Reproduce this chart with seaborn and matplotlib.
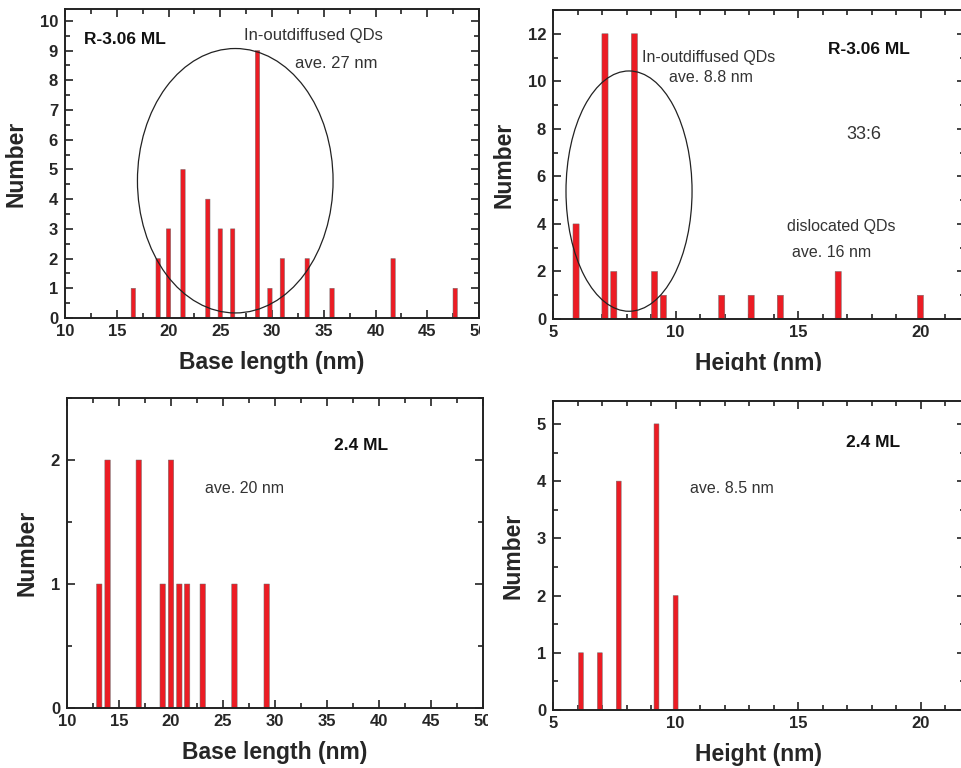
import numpy as np
import matplotlib
matplotlib.use("Agg")
import matplotlib.pyplot as plt
from matplotlib.patches import Ellipse, Rectangle
from matplotlib.ticker import MultipleLocator
import seaborn as sns

# R-3.06 ML sample: base length distribution
tl_base = [16.6, 19.0, 20.0, 21.4, 23.8, 25.0, 26.2, 28.6, 29.8, 31.0, 33.4, 35.8, 41.7, 47.7]
tl_count = [1, 2, 3, 5, 4, 3, 3, 9, 1, 2, 2, 1, 2, 1]

# R-3.06 ML sample: height distribution
tr_height = [5.94, 7.12, 7.48, 8.32, 9.14, 9.50, 11.88, 13.08, 14.27, 16.63, 19.98]
tr_count = [4, 12, 2, 12, 2, 1, 1, 1, 1, 2, 1]

# 2.4 ML sample: base length distribution
bl_base = [13.1, 13.9, 16.9, 19.2, 20.0, 20.8, 21.55, 23.05, 26.1, 29.2]
bl_count = [1, 2, 2, 1, 2, 1, 1, 1, 1, 1]

# 2.4 ML sample: height distribution
br_height = [6.14, 6.91, 7.68, 9.22, 10.0]
br_count = [1, 1, 4, 5, 2]

sns.set_style("ticks")
plt.rcParams["font.family"] = ["Liberation Sans", "DejaVu Sans"]
plt.rcParams["axes.linewidth"] = 1.4
plt.rcParams["axes.edgecolor"] = "#222222"

BAR_COLOR = "#ec1c24"
W, H = 962, 768
fig = plt.figure(figsize=(W / 100, H / 100), dpi=100)


def add_axes_px(left, right, top, bottom, z=0):
    return fig.add_axes([left / W, 1 - bottom / H, (right - left) / W, (bottom - top) / H], zorder=z)


def histo(ax, xs, ys, bar_w, xlim, ylim, xmaj, xmin, ymaj, ymin, xlabel):
    native = np.min(np.diff(np.unique(xs)))
    sns.barplot(x=xs, y=ys, ax=ax, native_scale=True, width=bar_w / native,
                color=BAR_COLOR, saturation=1, edgecolor="#6e6e6e", linewidth=0.35,
                errorbar=None)
    for p in ax.patches:
        p.set_snap(False)
    ax.set_xlim(*xlim)
    ax.set_ylim(*ylim)
    ax.xaxis.set_major_locator(MultipleLocator(xmaj))
    ax.xaxis.set_minor_locator(MultipleLocator(xmin))
    ax.yaxis.set_major_locator(MultipleLocator(ymaj))
    ax.yaxis.set_minor_locator(MultipleLocator(ymin))
    ax.tick_params(which="both", direction="in", top=True, right=True, width=1.2,
                   color="#222222")
    ax.tick_params(which="major", length=6)
    ax.tick_params(which="minor", length=3.5)
    ax.tick_params(axis="x", which="major", pad=4, labelsize=12)
    ax.tick_params(axis="y", which="major", pad=5, labelsize=12)
    for lab in ax.get_xticklabels() + ax.get_yticklabels():
        lab.set_fontweight("bold")
    ax.set_xlabel(xlabel, fontsize=16.5, fontweight="bold", labelpad=9)
    ax.set_ylabel("Number", fontsize=16.5, fontweight="bold", labelpad=9)
    for s in ax.spines.values():
        s.set_visible(True)


def note(ax, x, y, s, bold=False, size=11.5, ha="center"):
    ax.text(x, y, s, ha=ha, va="center", fontsize=size,
            fontweight="bold" if bold else "normal",
            color="#111111" if bold else "#333333")


# Top left
ax1 = add_axes_px(65, 479, 9, 318, z=0)
histo(ax1, tl_base, tl_count, 0.42, (10, 50), (0, 10.4), 5, 2.5, 1, 0.5, "Base length (nm)")
ax1.add_patch(Ellipse((26.45, 4.62), 18.9, 8.9, fill=False, edgecolor="#222222", lw=0.9, zorder=5))
note(ax1, 11.8, 9.37, "R-3.06 ML", bold=True, size=12.5, ha="left")
note(ax1, 34.0, 9.52, "In-outdiffused QDs", size=12)
note(ax1, 36.2, 8.56, "ave. 27 nm", size=12)

# Top right
ax2 = add_axes_px(553, 965, 10, 319, z=0)
histo(ax2, tr_height, tr_count, 0.25, (5, 21.8), (0, 13), 5, 1, 2, 1, "Height (nm)")
ax2.add_patch(Ellipse((8.1, 5.38), 5.14, 10.11, fill=False, edgecolor="#222222", lw=0.9, zorder=5))
note(ax2, 11.35, 11.02, "In-outdiffused QDs")
note(ax2, 11.42, 10.18, "ave. 8.8 nm")
note(ax2, 17.88, 11.34, "R-3.06 ML", bold=True, size=12.5)
note(ax2, 17.68, 7.75, "33:6", size=13)
note(ax2, 16.77, 3.88, "dislocated QDs")
note(ax2, 16.36, 2.80, "ave. 16 nm")

# Bottom left
ax3 = add_axes_px(67, 483, 398, 708, z=0)
histo(ax3, bl_base, bl_count, 0.52, (10, 50), (0, 2.5), 5, 2.5, 1, 0.5, "Base length (nm)")
note(ax3, 38.3, 2.12, "2.4 ML", bold=True, size=12.5)
note(ax3, 27.06, 1.77, "ave. 20 nm")

# Bottom right
ax4 = add_axes_px(553, 965, 401, 710, z=0)
histo(ax4, br_height, br_count, 0.2, (5, 21.8), (0, 5.4), 5, 1, 1, 0.5, "Height (nm)")
note(ax4, 18.07, 4.68, "2.4 ML", bold=True, size=12.5)
note(ax4, 12.31, 3.87, "ave. 8.5 nm")

# Panel borders trim the outermost tick labels and the lower edge of the top-right label
for (x0, y0, x1, y1) in [(480, 318, 505, 350), (488, 708, 508, 740), (490, 371, 962, 397)]:
    fig.patches.append(Rectangle((x0 / W, 1 - y1 / H), (x1 - x0) / W, (y1 - y0) / H,
                                 transform=fig.transFigure, facecolor="white",
                                 edgecolor="none", zorder=0.5))

fig.savefig("out.png", dpi=100)
